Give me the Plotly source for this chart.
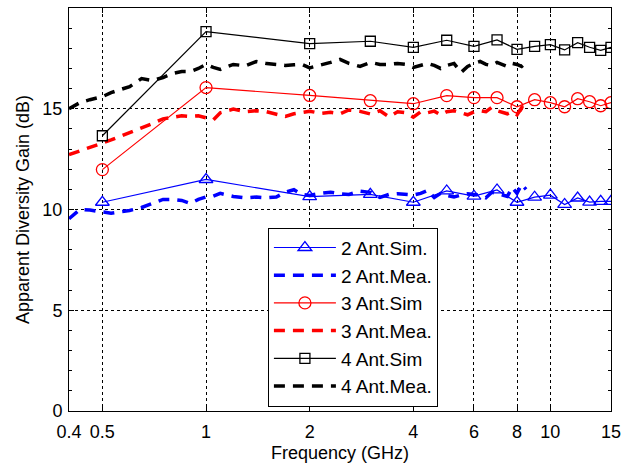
import plotly.graph_objects as go

# ---- simulated data (GHz, dB) ----
sim_freq = [0.5, 1, 2, 3, 4, 5, 6, 7, 8, 9, 10, 11, 12, 13, 14, 15]
sim2 = [10.36, 11.49, 10.64, 10.75, 10.36, 10.92, 10.66, 10.97, 10.36, 10.61, 10.71, 10.25, 10.57, 10.37, 10.40, 10.40]
sim3 = [11.98, 16.05, 15.66, 15.40, 15.25, 15.65, 15.55, 15.55, 15.10, 15.45, 15.30, 15.10, 15.50, 15.35, 15.15, 15.30]
sim4 = [13.66, 18.83, 18.23, 18.35, 18.05, 18.40, 18.10, 18.42, 17.95, 18.10, 18.18, 17.92, 18.28, 18.05, 17.90, 18.05]

# ---- measured data (GHz, dB) ----
mea_freq = [0.4, 0.43, 0.46, 0.5, 0.53, 0.57, 0.6, 0.65, 0.7, 0.75, 0.8, 0.85, 0.9, 0.95,
            1.0, 1.05, 1.1, 1.2, 1.3, 1.4, 1.5, 1.6, 1.7, 1.8, 1.9, 2.0, 2.15, 2.3, 2.45,
            2.6, 2.8, 3.0, 3.2, 3.4, 3.6, 3.8, 4.0, 4.2, 4.4, 4.6, 4.8, 5.0, 5.25, 5.5,
            5.75, 6.0, 6.25, 6.5, 6.75, 7.0, 7.25, 7.5, 7.75, 8.0, 8.25, 8.5]
mea2 = [9.54, 10.00, 9.97, 9.87, 9.82, 9.90, 9.95, 10.10, 10.30, 10.50, 10.50, 10.45, 10.30, 10.50,
        10.62, 10.66, 10.80, 10.65, 10.58, 10.62, 10.58, 10.62, 10.86, 10.98, 10.75, 10.70, 10.80, 10.86, 10.78,
        10.75, 10.91, 10.85, 10.60, 10.75, 10.78, 10.74, 10.72, 10.80, 10.95, 10.60, 10.80, 10.70, 10.62, 10.72,
        10.78, 10.75, 10.70, 10.58, 10.85, 10.80, 10.72, 10.65, 11.10, 10.80, 11.25, 11.00]
mea3 = [12.72, 12.90, 13.05, 13.30, 13.45, 13.66, 13.80, 14.05, 14.27, 14.50, 14.60, 14.65, 14.62, 14.65,
        14.55, 14.45, 14.80, 14.98, 14.85, 14.90, 14.85, 14.75, 14.62, 14.75, 14.80, 14.88, 14.77, 14.82, 14.75,
        14.94, 14.87, 14.74, 14.90, 14.60, 14.85, 14.80, 14.58, 14.85, 14.80, 14.88, 14.70, 14.85, 14.90, 14.80,
        14.70, 14.85, 14.90, 14.85, 15.06, 14.90, 14.82, 14.75, 14.85, 14.70, 15.05, 14.85]
mea4 = [15.00, 15.30, 15.45, 15.60, 15.80, 16.00, 16.10, 16.50, 16.40, 16.55, 16.75, 16.85, 16.85, 17.00,
        17.20, 17.05, 16.95, 17.20, 17.13, 17.34, 17.24, 17.20, 17.15, 17.18, 17.20, 17.03, 17.15, 17.30, 17.45,
        17.25, 17.10, 17.30, 17.20, 17.20, 17.25, 17.20, 17.05, 17.15, 17.25, 17.15, 17.00, 17.15, 17.25, 16.80,
        17.10, 17.25, 17.35, 17.20, 17.15, 17.30, 17.20, 17.10, 17.25, 17.20, 17.10, 17.30]

x_tickvals = [0.4, 0.5, 1, 2, 4, 6, 8, 10, 15]
x_ticktext = ["0.4", "0.5", "1", "2", "4", "6", "8", "10", "15"]
y_tickvals = [0, 5, 10, 15, 20]

FONT = "Liberation Sans, Arial, Helvetica, sans-serif"
BLUE, RED, BLACK = "#0000ff", "#ff0000", "#000000"

fig = go.Figure()

def sim_trace(y, name, color, symbol, size):
    return go.Scatter(x=sim_freq, y=y, name=name, mode="lines+markers",
                      line=dict(color=color, width=1.2),
                      marker=dict(symbol=symbol, size=size, color=color,
                                  line=dict(color=color, width=1.3)))

def mea_trace(y, name, color):
    return go.Scatter(x=mea_freq, y=y, name=name, mode="lines",
                      line=dict(color=color, width=3.5, dash="11px,8px"))

fig.add_trace(sim_trace(sim2, "2 Ant.Sim.", BLUE, "triangle-up-open", 12))
fig.add_trace(mea_trace(mea2, "2 Ant.Mea.", BLUE))
fig.add_trace(sim_trace(sim3, "3 Ant.Sim", RED, "circle-open", 12))
fig.add_trace(mea_trace(mea3, "3 Ant.Mea.", RED))
fig.add_trace(sim_trace(sim4, "4 Ant.Sim", BLACK, "square-open", 10))
fig.add_trace(mea_trace(mea4, "4 Ant.Mea.", BLACK))

axis_common = dict(showline=True, linecolor="black", linewidth=1, mirror="ticks",
                   ticks="inside", ticklen=5, tickcolor="black",
                   showgrid=True, gridcolor="black", griddash="dot", gridwidth=1,
                   zeroline=False, tickfont=dict(size=18, color="black", family=FONT),
                   title_font=dict(size=18, color="black", family=FONT))

fig.update_xaxes(type="log", range=[-0.39794, 1.17609],
                 tickvals=x_tickvals, ticktext=x_ticktext, ticklabelstandoff=4,
                 title_text="Frequency (GHz)", title_standoff=5, **axis_common)
fig.update_yaxes(range=[0, 20], tickvals=y_tickvals, ticklabelstandoff=2,
                 minor=dict(dtick=1, ticks="inside", ticklen=3, tickcolor="black", showgrid=False),
                 title_text="Apparent Diversity Gain (dB)", title_standoff=8, **axis_common)

fig.update_layout(
    width=636, height=464,
    margin=dict(l=69, r=25, t=8, b=53, autoexpand=False),
    paper_bgcolor="white", plot_bgcolor="white",
    font=dict(family=FONT, color="black"),
    showlegend=True,
    legend=dict(x=0.367, y=0.455, xanchor="left", yanchor="top",
                bgcolor="white", bordercolor="black", borderwidth=1,
                font=dict(size=19, family=FONT, color="black"),
                itemwidth=62, tracegroupgap=0),
)

fig.write_html("out.html", config={"displayModeBar": False},
               post_script="document.body.style.margin='0';")
